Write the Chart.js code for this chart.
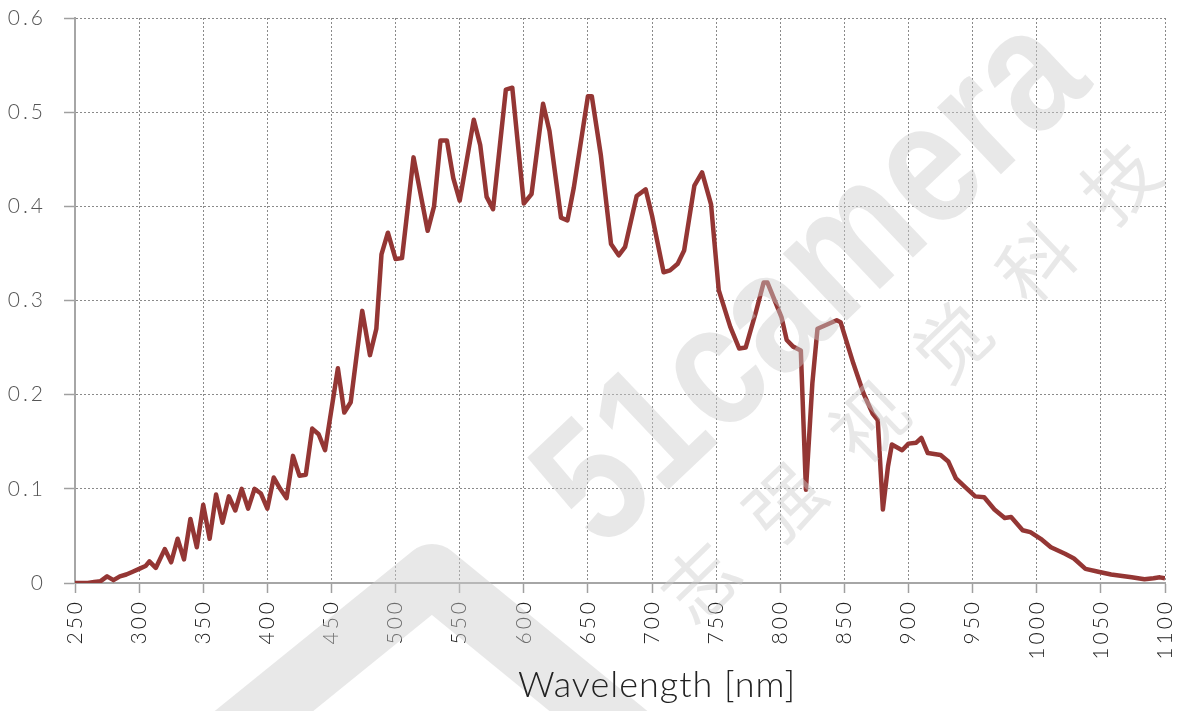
<!DOCTYPE html>
<html>
<head>
<meta charset="utf-8">
<script src="https://cdn.jsdelivr.net/npm/chart.js@4.4.1/dist/chart.umd.min.js"></script>
<style>
  html, body { margin: 0; padding: 0; background: #fff; }
  #wrap { width: 1190px; height: 711px; }
</style>
</head>
<body>
<div id="wrap"><canvas id="qe"></canvas></div>
<script>
// spectral response curve
const wavelengths = [
  250, 255, 260, 265, 270, 275, 280, 285, 290, 295, 300, 305, 308, 313, 320, 325, 330, 335, 340, 345,
  350, 355, 360, 365, 370, 375, 380, 385, 390, 395, 400, 405, 410, 415, 420, 425, 430, 435, 440, 445,
  455, 460, 465, 474, 480, 485, 489, 494, 500, 505, 514, 525, 530, 535, 540, 545, 550, 561, 566, 571,
  576, 586, 591, 600, 606, 615, 620, 629, 634, 639, 650, 653, 660, 668, 674, 679, 688, 695, 700, 709,
  714, 720, 725, 733, 739, 746, 752, 761, 768, 773, 781, 787, 790, 801, 805, 810, 816, 820, 825, 829,
  844, 847, 857, 865, 872, 876, 880, 884, 887, 895, 900, 906, 910, 915, 925, 931, 937, 944, 952, 959,
  967, 975, 980, 989, 995, 1004, 1011, 1022, 1029, 1038, 1048, 1058, 1074, 1084, 1091, 1096, 1100
];
const response = [
  0, 0, 0, 0.001, 0.002, 0.007, 0.003, 0.007, 0.009, 0.012, 0.015, 0.018, 0.023, 0.016, 0.036, 0.022, 0.047, 0.025, 0.068, 0.038,
  0.083, 0.047, 0.094, 0.064, 0.092, 0.077, 0.100, 0.079, 0.100, 0.095, 0.079, 0.112, 0.100, 0.090, 0.135, 0.114, 0.115, 0.164, 0.158, 0.141,
  0.228, 0.181, 0.192, 0.289, 0.242, 0.270, 0.349, 0.372, 0.344, 0.345, 0.452, 0.374, 0.400, 0.470, 0.470, 0.430, 0.406, 0.492, 0.465, 0.410,
  0.397, 0.524, 0.526, 0.403, 0.413, 0.509, 0.480, 0.388, 0.385, 0.420, 0.517, 0.517, 0.455, 0.360, 0.348, 0.357, 0.411, 0.418, 0.390, 0.330,
  0.332, 0.339, 0.353, 0.422, 0.436, 0.402, 0.311, 0.272, 0.249, 0.250, 0.288, 0.319, 0.319, 0.282, 0.258, 0.251, 0.247, 0.099, 0.212, 0.270,
  0.279, 0.277, 0.233, 0.201, 0.180, 0.173, 0.078, 0.124, 0.147, 0.141, 0.148, 0.149, 0.154, 0.138, 0.136, 0.129, 0.111, 0.102, 0.092, 0.091,
  0.078, 0.069, 0.070, 0.056, 0.054, 0.046, 0.038, 0.031, 0.026, 0.015, 0.012, 0.009, 0.006, 0.004, 0.005, 0.006, 0.005
];
const xRange = [250, 1100];
const yRange = [0, 0.6];
const xTitle = 'Wavelength [nm]';
const watermark = '51camera';
const watermarkCn = ['志', '强', '视', '觉', '科', '技'];

const labelFont = 'Lato, "Open Sans", sans-serif';

// wider digit spacing like the original tick labels
const spacingPlugin = {
  id: 'spacing',
  beforeDraw(chart) { chart.ctx.letterSpacing = '3px'; },
  afterDraw(chart) { chart.ctx.letterSpacing = '0px'; }
};

// faint logo over the whole picture, like the original
const watermarkPlugin = {
  id: 'watermark',
  afterDraw(chart) {
    const ctx = chart.ctx;
    ctx.save();
    ctx.letterSpacing = '0px';
    ctx.globalAlpha = 0.45;
    ctx.fillStyle = '#cdcdcd';
    ctx.strokeStyle = '#cdcdcd';

    // arch at bottom left
    ctx.lineWidth = 62;
    ctx.lineCap = 'round';
    ctx.lineJoin = 'round';
    ctx.beginPath();
    ctx.moveTo(222, 745);
    ctx.lineTo(432, 575);
    ctx.lineTo(640, 745);
    ctx.stroke();

    ctx.translate(815, 284);
    ctx.rotate(-43.5 * Math.PI / 180);
    ctx.scale(0.84, 1);
    ctx.font = 'bold 175px "Liberation Sans", Arial, sans-serif';
    ctx.textAlign = 'center';
    ctx.textBaseline = 'middle';
    ctx.fillText(watermark, 0, 0);
    ctx.restore();

    ctx.save();
    ctx.letterSpacing = '0px';
    ctx.globalAlpha = 0.45;
    ctx.fillStyle = '#cdcdcd';
    ctx.font = '74px "Noto Sans CJK SC", sans-serif';
    ctx.textAlign = 'center';
    ctx.textBaseline = 'middle';
    watermarkCn.forEach((ch, i) => {
      ctx.save();
      ctx.translate(700 + i * 84, 582 - i * 80);
      ctx.rotate(-44 * Math.PI / 180);
      ctx.fillText(ch, 0, 0);
      ctx.restore();
    });
    ctx.restore();
  }
};

// axis title sits a bit right of the plot centre in the original
const titlePlugin = {
  id: 'xTitle',
  afterDraw(chart) {
    const ctx = chart.ctx;
    ctx.save();
    ctx.letterSpacing = '1px';
    ctx.font = '300 36px ' + labelFont;
    ctx.fillStyle = '#222';
    ctx.textAlign = 'center';
    ctx.textBaseline = 'middle';
    ctx.fillText(xTitle, 657, 685);
    ctx.restore();
  }
};

const ctx = document.getElementById('qe').getContext('2d');
new Chart(ctx, {
  type: 'line',
  data: {
    datasets: [{
      data: wavelengths.map((w, i) => ({ x: w, y: response[i] })),
      borderColor: '#943634',
      borderWidth: 4.5,
      borderJoinStyle: 'round',
      pointRadius: 0,
      tension: 0,
      fill: false
    }]
  },
  options: {
    responsive: true,
    maintainAspectRatio: false,
    animation: false,
    layout: { padding: { top: 18, right: 25, left: 0, bottom: 0 } },
    plugins: {
      legend: { display: false },
      tooltip: { enabled: false }
    },
    scales: {
      x: {
        type: 'linear',
        min: xRange[0],
        max: xRange[1],
        afterFit: s => {
          s.height = 128;
          s.paddingLeft = 0; s.paddingRight = 0; s.paddingTop = 0; s.paddingBottom = 0;
        },
        ticks: {
          stepSize: 50,
          minRotation: 90,
          maxRotation: 90,
          padding: 6,
          color: '#222',
          font: { family: labelFont, size: 21, weight: '300' },
          callback: v => String(v)
        },
        grid: {
          color: '#8a8a8a',
          lineWidth: 1,
          tickLength: 10,
          tickColor: '#a0a0a0',
          tickWidth: 1.5,
          tickBorderDash: []
        },
        border: { color: '#a6a6a6', width: 2, dash: [2, 2] }
      },
      y: {
        min: yRange[0],
        max: yRange[1],
        afterFit: s => {
          s.width = 75;
          s.paddingLeft = 0; s.paddingRight = 0; s.paddingTop = 0; s.paddingBottom = 0;
        },
        ticks: {
          stepSize: 0.1,
          padding: 18,
          color: '#555',
          font: { family: labelFont, size: 21, weight: '300' },
          callback: v => v === 0 ? '0' : v.toFixed(1)
        },
        grid: {
          color: '#8a8a8a',
          lineWidth: 1,
          tickLength: 11,
          tickColor: '#a0a0a0',
          tickWidth: 1.5,
          tickBorderDash: []
        },
        border: { color: '#a6a6a6', width: 2, dash: [2, 2] }
      }
    }
  },
  plugins: [spacingPlugin, watermarkPlugin, titlePlugin]
});
</script>
</body>
</html>
